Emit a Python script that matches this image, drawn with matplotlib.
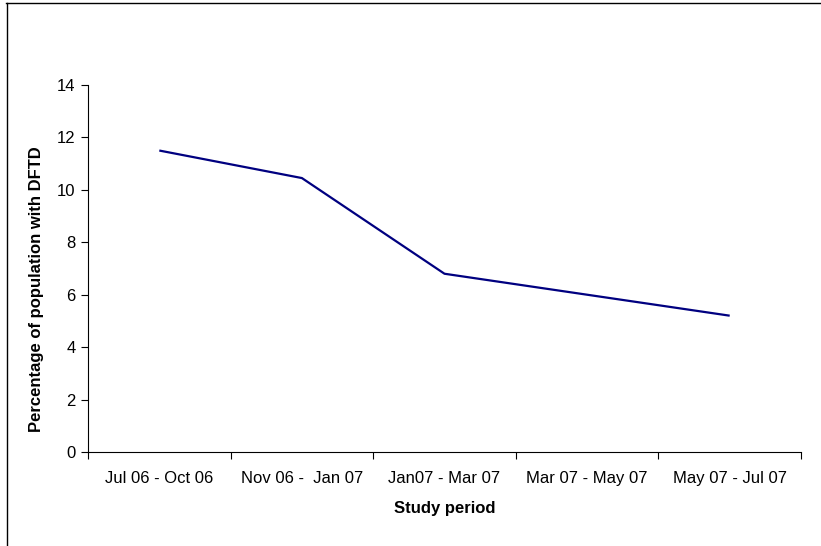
import matplotlib
matplotlib.use("Agg")
import matplotlib.pyplot as plt
from matplotlib.lines import Line2D
import numpy as np

periods = ["Jul 06 - Oct 06", "Nov 06 -  Jan 07", "Jan07 - Mar 07", "Mar 07 - May 07", "May 07 - Jul 07"]
dftd_pct = [11.5, 10.45, 6.8, 6.0, 5.2]
y_ticks = [0, 2, 4, 6, 8, 10, 12, 14]

plt.rcParams['font.family'] = ['Liberation Sans', 'DejaVu Sans']

fig = plt.figure(figsize=(8.21, 5.46), dpi=100)
ax = fig.add_axes([88/821, 1-452/546, (801-88)/821, (452-85)/546])

x = np.arange(len(periods))
ax.plot(x, dftd_pct, color='#000080', lw=1.6, solid_capstyle='butt')

ax.set_xlim(-0.5, len(periods) - 0.5)
ax.set_ylim(0, 14)
ax.set_yticks(y_ticks)
ax.set_xticks(np.arange(-0.5, len(periods)), labels=[''] * (len(periods) + 1))
ax.set_xticks(x, labels=periods, minor=True)
ax.tick_params(axis='x', which='minor', length=0, pad=13.5, labelsize=12)
ax.tick_params(axis='x', which='major', length=5, width=0.8, direction='out')
ax.tick_params(axis='y', length=5, width=0.8, direction='out', labelsize=12, pad=4)

for s in ['top', 'right']:
    ax.spines[s].set_visible(False)
for s in ['left', 'bottom']:
    ax.spines[s].set_linewidth(0.8)

ax.set_xlabel('Study period', fontsize=12, fontweight='bold')
ax.set_ylabel('Percentage of population with DFTD', fontsize=12, fontweight='bold')
ax.xaxis.set_label_coords(0.5, -0.133)
ax.yaxis.set_label_coords(-0.0617, 0.444)

fig.add_artist(Line2D([6/821, 1], [1-2.5/546, 1-2.5/546], transform=fig.transFigure, color='black', lw=1))
fig.add_artist(Line2D([6.5/821, 6.5/821], [0, 1-2.5/546], transform=fig.transFigure, color='black', lw=1))

fig.savefig('out.png', dpi=100)
